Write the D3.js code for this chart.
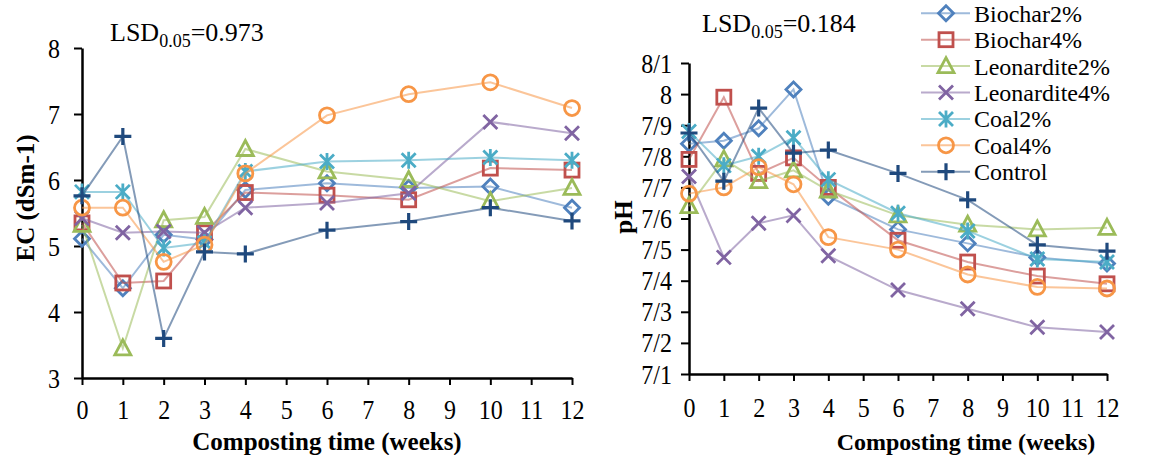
<html>
<head>
  <title>EC and pH during composting</title>
  <script src="https://d3js.org/d3.v7.min.js"></script>
  <style>
    body { margin: 0; background: white; }
    .axis path, .axis line { stroke: black; stroke-width: 2px; }
  </style>
</head>
<body>
  <svg id="chart" width="1169" height="455" font-family="Liberation Serif, DejaVu Serif, serif"></svg>
  <script>
    // data
    var weeks = [0, 1, 2, 3, 4, 6, 8, 10, 12];
    var seriesNames = ["Biochar2%", "Biochar4%", "Leonardite2%", "Leonardite4%", "Coal2%", "Coal4%", "Control"];
    var seriesColors = ["#4F81BD", "#C0504D", "#9BBB59", "#8064A2", "#4BACC6", "#F79646", "#1F497D"];
    var seriesShapes = ["diamond", "square", "triangle", "x", "star", "circle", "plus"];

    var ecBiochar2 = [5.11, 4.36, 5.17, 5.1, 5.85, 5.95, 5.88, 5.9, 5.58];
    var ecBiochar4 = [5.35, 4.44, 4.47, 5.2, 5.81, 5.77, 5.7, 6.18, 6.15];
    var ecLeonardite2 = [5.32, 3.45, 5.39, 5.44, 6.47, 6.13, 6.0, 5.68, 5.88];
    var ecLeonardite4 = [5.42, 5.2, 5.22, 5.2, 5.58, 5.65, 5.8, 6.88, 6.71];
    var ecCoal2 = [5.82, 5.82, 4.97, 5.05, 6.13, 6.28, 6.3, 6.34, 6.3];
    var ecCoal4 = [5.58, 5.58, 4.76, 5.02, 6.1, 6.98, 7.3, 7.48, 7.09];
    var ecControl = [5.76, 6.66, 3.6, 4.91, 4.88, 5.24, 5.37, 5.58, 5.38];

    var phBiochar2 = [7.84, 7.85, 7.89, 8.015, 7.67, 7.565, 7.52, 7.475, 7.455];
    var phBiochar4 = [7.79, 7.99, 7.745, 7.795, 7.70, 7.53, 7.46, 7.415, 7.39];
    var phLeonardite2 = [7.64, 7.79, 7.72, 7.755, 7.69, 7.61, 7.58, 7.565, 7.57];
    var phLeonardite4 = [7.735, 7.475, 7.585, 7.61, 7.48, 7.37, 7.31, 7.25, 7.235];
    var phCoal2 = [7.88, 7.77, 7.80, 7.86, 7.725, 7.617, 7.56, 7.47, 7.46];
    var phCoal4 = [7.68, 7.70, 7.765, 7.71, 7.54, 7.50, 7.42, 7.38, 7.375];
    var phControl = [7.875, 7.72, 7.955, 7.81, 7.82, 7.745, 7.66, 7.515, 7.495];

    var xTicks = [0, 1, 2, 3, 4, 5, 6, 7, 8, 9, 10, 11, 12];
    var ecTicks = [3, 4, 5, 6, 7, 8];
    var phTicks = [7.1, 7.2, 7.3, 7.4, 7.5, 7.6, 7.7, 7.8, 7.9, 8.0, 8.1];

    var ecData = [ecBiochar2, ecBiochar4, ecLeonardite2, ecLeonardite4, ecCoal2, ecCoal4, ecControl];
    var phData = [phBiochar2, phBiochar4, phLeonardite2, phLeonardite4, phCoal2, phCoal4, phControl];

    var serif = "'Liberation Serif', 'DejaVu Serif', serif";
    var svg = d3.select("#chart");

    function marker(g, shape, color) {
      var m;
      if (shape == "circle") {
        m = g.append("circle").attr("r", 7.5);
      } else if (shape == "square") {
        m = g.append("rect").attr("x", -7).attr("y", -7).attr("width", 14).attr("height", 14);
      } else {
        var p = {
          diamond: "M0,-7.5L7.5,0L0,7.5L-7.5,0Z",
          triangle: "M0,-8.5L8,6.5L-8,6.5Z",
          x: "M-7,-7L7,7M-7,7L7,-7",
          star: "M-7,-7L7,7M-7,7L7,-7M0,-8.5V8.5",
          plus: "M-8.5,0H8.5M0,-8.5V8.5"
        }[shape];
        m = g.append("path").attr("d", p);
      }
      m.style("fill", "none").style("stroke", color).style("stroke-width", shape == "plus" ? 3.2 : 2.8);
    }

    function panel(opts) {
      var x = d3.scaleLinear().domain([0, 12]).range(opts.xr);
      var y = d3.scaleLinear().domain(opts.yd).range(opts.yr);

      // tick labels in the figure are a bit taller than wide, stretch them slightly
      svg.append("g").attr("class", "axis")
        .attr("transform", "translate(0," + opts.yr[0] + ")")
        .call(d3.axisBottom(x).tickValues(xTicks).tickSize(7).tickSizeOuter(0).tickPadding(opts.xpad))
        .attr("font-family", null)
        .selectAll("text").style("font-family", serif).style("font-size", "24px")
        .attr("transform", "translate(0,32) scale(1,1.18) translate(0,-32)");

      svg.append("g").attr("class", "axis")
        .attr("transform", "translate(" + opts.xr[0] + ",0)")
        .call(d3.axisLeft(y).tickValues(opts.yt).tickSize(8).tickSizeOuter(0).tickPadding(opts.ypad).tickFormat(opts.fmt))
        .attr("font-family", null)
        .selectAll("text").style("font-family", serif).style("font-size", "24px")
        .attr("transform", "scale(1,1.18)");

      svg.selectAll(".axis .domain").style("stroke-width", "2.5px");

      var line = d3.line().x(function (d, i) { return x(weeks[i]); }).y(function (d) { return y(d); });

      opts.data.forEach(function (vals, s) {
        var g = svg.append("g");
        g.append("path").attr("d", line(vals))
          .style("fill", "none").style("stroke", seriesColors[s])
          .style("stroke-opacity", 0.55).style("stroke-width", 2);
        vals.forEach(function (v, i) {
          var mg = g.append("g").attr("transform", "translate(" + x(weeks[i]) + "," + y(v) + ")");
          marker(mg, seriesShapes[s], seriesColors[s]);
        });
      });

      // LSD label
      var t = svg.append("text").attr("x", opts.lsdX).attr("y", opts.lsdY)
        .style("font-family", serif).style("font-size", "26px");
      t.append("tspan").text("LSD");
      t.append("tspan").attr("dy", 6).style("font-size", "18px").text("0.05");
      t.append("tspan").attr("dy", -6).text("=" + opts.lsd);

      // axis titles
      svg.append("text").attr("x", opts.xtX).attr("y", 450).attr("text-anchor", "middle")
        .style("font-family", serif).style("font-weight", "bold").style("font-size", opts.xtSize + "px")
        .text("Composting time (weeks)");
      svg.append("text").attr("transform", "translate(" + opts.ytX + "," + opts.ytY + ") rotate(-90)")
        .attr("text-anchor", "middle")
        .style("font-family", serif).style("font-weight", "bold").style("font-size", "25px")
        .text(opts.ytitle);
    }

    panel({
      xr: [82, 572], yd: [3, 8], yr: [378, 48], yt: ecTicks, data: ecData,
      fmt: d3.format("d"), xpad: 16, ypad: 14,
      lsdX: 110, lsdY: 41, lsd: "0.973",
      xtX: 327, xtSize: 25, ytX: 34, ytY: 198, ytitle: "EC (dSm-1)"
    });

    panel({
      xr: [689, 1107], yd: [7.1, 8.1], yr: [374, 63], yt: phTicks, data: phData,
      fmt: function (d) { return d3.format(".1f")(d).replace(".0", "").replace(".", "/"); },
      xpad: 17, ypad: 9,
      lsdX: 702, lsdY: 32, lsd: "0.184",
      xtX: 966, xtSize: 24, ytX: 632, ytY: 217, ytitle: "pH"
    });

    // legend
    var legend = svg.append("g");
    seriesNames.forEach(function (name, s) {
      var ly = 13.3 + s * 26.4;
      var lg = legend.append("g").attr("transform", "translate(0," + ly + ")");
      lg.append("line").attr("x1", 921).attr("x2", 970).attr("y1", 0).attr("y2", 0)
        .style("stroke", seriesColors[s]).style("stroke-opacity", 0.55).style("stroke-width", 2);
      var mg = lg.append("g").attr("transform", "translate(946,0)");
      marker(mg, seriesShapes[s], seriesColors[s]);
      lg.append("text").attr("x", 974).attr("y", 8.5)
        .style("font-family", serif).style("font-size", "24px").text(name);
    });
  </script>
</body>
</html>
